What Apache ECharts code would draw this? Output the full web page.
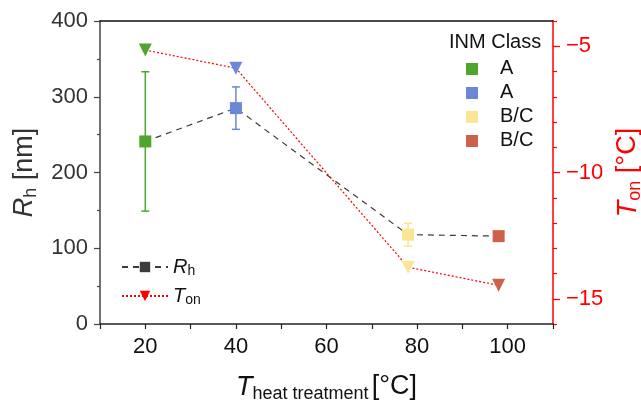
<!DOCTYPE html>
<html>
<head>
<meta charset="utf-8">
<script src="https://cdn.jsdelivr.net/npm/echarts@6/dist/echarts.min.js"></script>
<style>
  html, body { margin: 0; padding: 0; background: #fff; }
  #chart { width: 641px; height: 402px; }
</style>
</head>
<body>
<div id="chart"></div>
<script>
// 数据：热处理温度、粒径 Rh（含误差）与起始温度 Ton
const heatTemp = [20, 40, 78, 98];
const rhValues = [241, 285, 118, 116];
const rhErrors = [92, 28, 15, 4];
const tonValues = [-5.15, -5.87, -13.75, -14.47];
const classNames = ['A', 'A', 'B/C', 'B/C'];
const classColors = ['#4fa62e', '#6b88d8', '#f9e594', '#cf604a'];
const rightTicks = [-15, -10, -5];

const FONT = 'Liberation Sans, Arial, sans-serif';
const chart = echarts.init(document.getElementById('chart'));

const nameRich = {
    i: { fontStyle: 'italic', fontSize: 27, fontFamily: FONT, lineHeight: 32 },
    n: { fontSize: 27, fontFamily: FONT, lineHeight: 32 },
    s: { fontSize: 18, fontFamily: FONT, lineHeight: 12, verticalAlign: 'bottom' }
};
function richColor(c) {
    const r = {};
    Object.keys(nameRich).forEach(k => { r[k] = Object.assign({ color: c }, nameRich[k]); });
    return r;
}
const minus = v => String(v).replace('-', '\u2212');

// 误差棒数据 [x, low, high, idx]
const errData = heatTemp.map((x, i) => [x, rhValues[i] - rhErrors[i], rhValues[i] + rhErrors[i], i]);

// INM Class 图例
const classLegend = [{
    type: 'text', left: 449, top: 32,
    style: { text: 'INM Class', font: '20px ' + FONT, fill: '#111' }
}];
classNames.forEach((name, i) => {
    classLegend.push({
        type: 'rect', shape: { x: 466, y: 63 + i * 24, width: 12, height: 12 },
        style: { fill: classColors[i] }
    });
    classLegend.push({
        type: 'text', left: 500, top: 58 + i * 24,
        style: { text: name, font: '20px ' + FONT, fill: '#111' }
    });
});

const option = {
    animation: false,
    grid: { left: 100, right: 88, top: 21, bottom: 78, outerBoundsMode: 'none', containLabel: false },
    graphic: classLegend,
    legend: {
        orient: 'vertical', left: 116, top: 252, itemGap: 8,
        itemWidth: 46, itemHeight: 13,
        data: ['Rh', 'Ton'],
        formatter: name => name === 'Rh' ? '{i|R}{s|h}' : '{i|T}{s|on}',
        textStyle: {
            color: '#111',
            rich: {
                i: { fontStyle: 'italic', fontSize: 20, fontFamily: FONT, lineHeight: 22 },
                s: { fontSize: 14, fontFamily: FONT, lineHeight: 10, verticalAlign: 'bottom' }
            }
        }
    },
    xAxis: [{
        type: 'value', min: 10, max: 110, interval: 10,
        name: '{i|T}{s|heat treatment} {n|[°C]}',
        nameLocation: 'middle', nameGap: 47,
        nameTextStyle: { rich: richColor('#111') },
        axisLine: { lineStyle: { color: '#222', width: 1.5 } },
        axisTick: { length: 5, lineStyle: { color: '#222', width: 1.2 } },
        axisLabel: {
            color: '#111', fontSize: 22, fontFamily: FONT, margin: 12,
            formatter: v => (v % 20 === 0 && v >= 20 && v <= 100) ? String(v) : ''
        },
        splitLine: { show: false }
    }, {
        type: 'value', min: 10, max: 110, position: 'top',
        axisLine: { lineStyle: { color: '#111', width: 1.5 } },
        axisTick: { show: false }, axisLabel: { show: false }, splitLine: { show: false }
    }],
    yAxis: [{
        type: 'value', min: 0, max: 400, interval: 100,
        name: '{i|R}{s|h}{n| [nm]}',
        nameLocation: 'middle', nameGap: 56, nameRotate: 90,
        nameTextStyle: { rich: richColor('#333') },
        axisLine: { show: true, lineStyle: { color: '#444', width: 1.5 } },
        axisTick: { show: true, length: 6, lineStyle: { color: '#444', width: 1.2 } },
        minorTick: { show: true, splitNumber: 2, length: 3, lineStyle: { color: '#444', width: 1.2 } },
        axisLabel: { color: '#333', fontSize: 22, fontFamily: FONT, margin: 12 },
        splitLine: { show: false }
    }, {
        type: 'value', min: -16, max: -4, interval: 1, position: 'right',
        axisLine: { show: true, lineStyle: { color: '#f00', width: 1.5 } },
        axisTick: { show: true, length: 4, lineStyle: { color: '#f00', width: 1.2 } },
        axisLabel: { show: false },
        splitLine: { show: false }
    }, {
        type: 'value', min: -16, max: -4, position: 'right',
        name: '{i|T}{s|on}{n| [°C]}',
        nameLocation: 'middle', nameGap: 59, nameRotate: 90,
        nameTextStyle: { rich: richColor('#f00') },
        axisLine: { show: false },
        axisTick: { show: true, length: 7, customValues: rightTicks, lineStyle: { color: '#f00', width: 1.2 } },
        axisLabel: {
            color: '#f00', fontSize: 22, fontFamily: FONT, margin: 13,
            customValues: rightTicks, formatter: minus
        },
        splitLine: { show: false }
    }],
    series: [{
        name: 'errbar', type: 'custom', xAxisIndex: 0, yAxisIndex: 0, z: 1,
        data: errData,
        renderItem: function (params, api) {
            const x = api.value(0);
            const lo = api.coord([x, api.value(1)]);
            const hi = api.coord([x, api.value(2)]);
            const c = classColors[api.value(3)];
            const w = 4;
            const st = { stroke: c, lineWidth: 1.5 };
            return {
                type: 'group', children: [
                    { type: 'line', shape: { x1: lo[0], y1: lo[1], x2: hi[0], y2: hi[1] }, style: st },
                    { type: 'line', shape: { x1: lo[0] - w, y1: lo[1], x2: lo[0] + w, y2: lo[1] }, style: st },
                    { type: 'line', shape: { x1: hi[0] - w, y1: hi[1], x2: hi[0] + w, y2: hi[1] }, style: st }
                ]
            };
        }
    }, {
        name: 'Rh', type: 'line', xAxisIndex: 0, yAxisIndex: 0, z: 3,
        symbol: 'rect', symbolSize: 12,
        itemStyle: { color: '#3c3c3c' },
        lineStyle: { color: '#3c3c3c', width: 1.2, type: [6, 5] },
        data: heatTemp.map((x, i) => ({ value: [x, rhValues[i]], itemStyle: { color: classColors[i] } }))
    }, {
        name: 'Ton', type: 'line', xAxisIndex: 0, yAxisIndex: 1, z: 3,
        symbol: 'triangle', symbolRotate: 180, symbolSize: 13,
        itemStyle: { color: '#f00' },
        lineStyle: { color: '#f00', width: 1.2, type: [2, 2] },
        data: heatTemp.map((x, i) => ({ value: [x, tonValues[i]], itemStyle: { color: classColors[i] } }))
    }]
};

chart.setOption(option);
</script>
</body>
</html>
